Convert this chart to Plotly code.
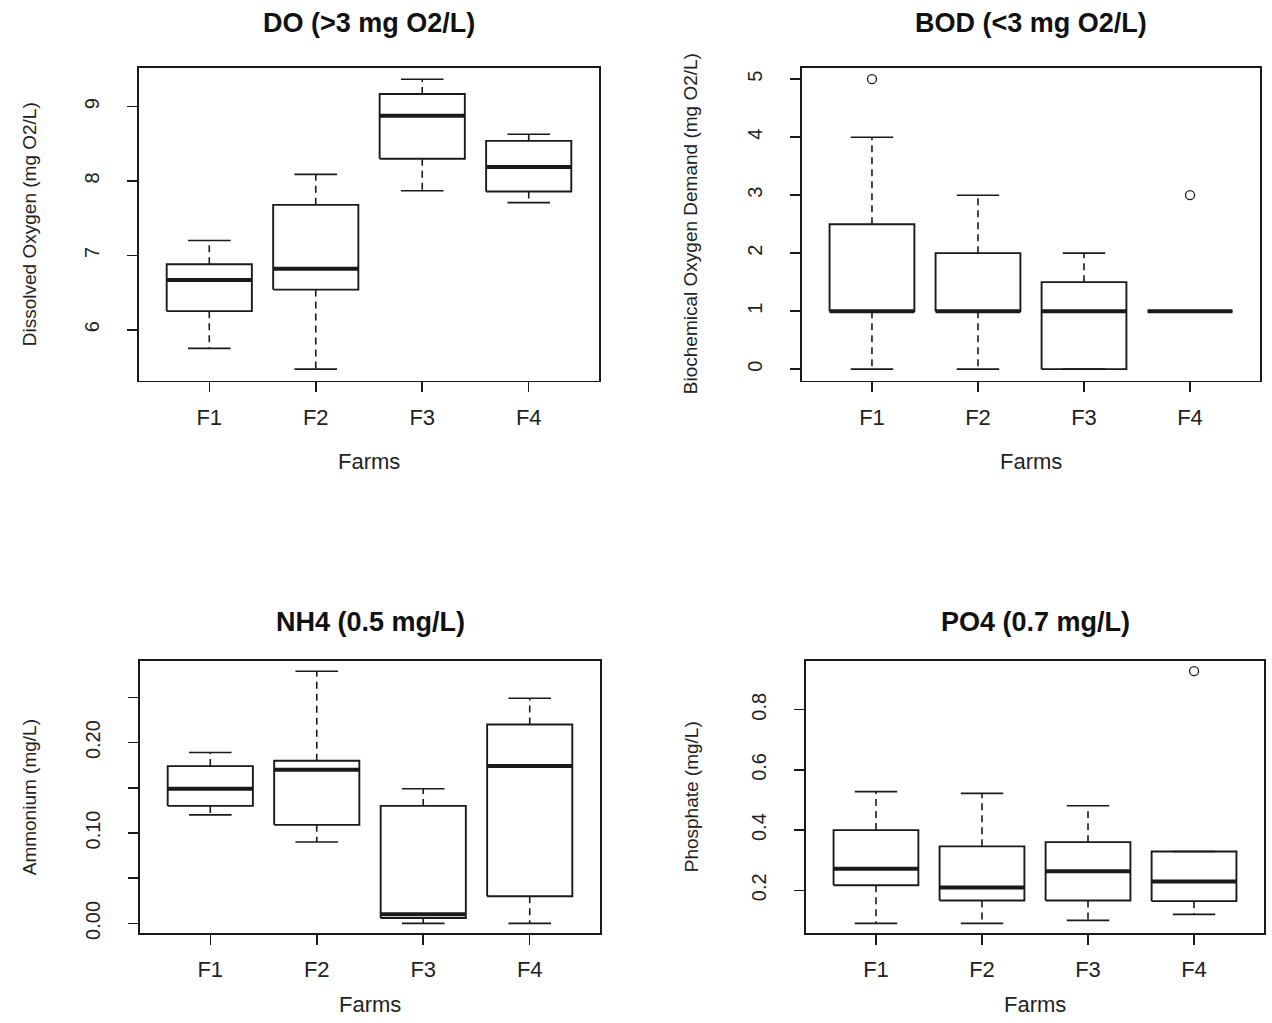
import plotly.graph_objects as go

# ---------------- data ----------------
farms = ["F1", "F2", "F3", "F4"]

do_lower = [5.75, 5.47, 7.87, 7.71]
do_q1 = [6.25, 6.54, 8.30, 7.86]
do_median = [6.67, 6.82, 8.88, 8.19]
do_q3 = [6.88, 7.68, 9.17, 8.54]
do_upper = [7.20, 8.09, 9.37, 8.63]
do_out_farm = []
do_out_val = []

bod_lower = [0, 0, 0, 1]
bod_q1 = [1, 1, 0, 1]
bod_median = [1, 1, 1, 1]
bod_q3 = [2.5, 2, 1.5, 1]
bod_upper = [4, 3, 2, 1]
bod_out_farm = ["F1", "F4"]
bod_out_val = [5, 3]

nh4_lower = [0.120, 0.090, 0.000, 0.000]
nh4_q1 = [0.130, 0.109, 0.006, 0.030]
nh4_median = [0.149, 0.170, 0.010, 0.174]
nh4_q3 = [0.174, 0.180, 0.130, 0.220]
nh4_upper = [0.189, 0.279, 0.149, 0.249]
nh4_out_farm = []
nh4_out_val = []

po4_lower = [0.090, 0.090, 0.100, 0.120]
po4_q1 = [0.217, 0.166, 0.166, 0.164]
po4_median = [0.272, 0.209, 0.263, 0.229]
po4_q3 = [0.400, 0.346, 0.360, 0.329]
po4_upper = [0.528, 0.522, 0.481, 0.329]
po4_out_farm = ["F4"]
po4_out_val = [0.928]

titles = ["DO (>3 mg O2/L)", "BOD (<3 mg O2/L)", "NH4 (0.5 mg/L)", "PO4 (0.7 mg/L)"]
y_titles = ["Dissolved Oxygen (mg O2/L)", "Biochemical Oxygen Demand (mg O2/L)",
            "Ammonium (mg/L)", "Phosphate (mg/L)"]
x_title = "Farms"

do_ticks = [6, 7, 8, 9]
do_ticktext = ["6", "7", "8", "9"]
bod_ticks = [0, 1, 2, 3, 4, 5]
bod_ticktext = ["0", "1", "2", "3", "4", "5"]
nh4_ticks = [0.00, 0.05, 0.10, 0.15, 0.20, 0.25]
nh4_ticktext = ["0.00", "", "0.10", "", "0.20", ""]
po4_ticks = [0.2, 0.4, 0.6, 0.8]
po4_ticktext = ["0.2", "0.4", "0.6", "0.8"]

# ---------------- styling / layout ----------------
W, H = 1272, 1023
FONT = "Liberation Sans, Arial, Helvetica, sans-serif"
INK = "#1a1a1a"
BOXW = 0.4     # half width of box
STAPLE = 0.2   # half width of staple


def px(x):
    return x / W


def py(y):
    return 1 - y / H


panels = [
    dict(lower=do_lower, q1=do_q1, med=do_median, q3=do_q3, upper=do_upper,
         of=do_out_farm, ov=do_out_val, ticks=do_ticks, ticktext=do_ticktext,
         frame=(139, 599, 68, 383), ytx=29),
    dict(lower=bod_lower, q1=bod_q1, med=bod_median, q3=bod_q3, upper=bod_upper,
         of=bod_out_farm, ov=bod_out_val, ticks=bod_ticks, ticktext=bod_ticktext,
         frame=(802, 1260, 68, 383), ytx=690),
    dict(lower=nh4_lower, q1=nh4_q1, med=nh4_median, q3=nh4_q3, upper=nh4_upper,
         of=nh4_out_farm, ov=nh4_out_val, ticks=nh4_ticks, ticktext=nh4_ticktext,
         frame=(140, 600, 665, 939), ytx=29),
    dict(lower=po4_lower, q1=po4_q1, med=po4_median, q3=po4_q3, upper=po4_upper,
         of=po4_out_farm, ov=po4_out_val, ticks=po4_ticks, ticktext=po4_ticktext,
         frame=(806, 1264, 665, 939), ytx=691),
]

fig = go.Figure()
annotations = []
layout_axes = {}

for k, p in enumerate(panels):
    sfx = "" if k == 0 else str(k + 1)
    xa, ya = "x" + sfx, "y" + sfx
    pos = [farms.index(f) + 1 for f in farms]

    wx, wy, sx, sy, bx, by, mx, my = [], [], [], [], [], [], [], []
    for i, c in enumerate(pos):
        # dashed whiskers
        wx += [c, c, None, c, c, None]
        wy += [p["q3"][i], p["upper"][i], None, p["q1"][i], p["lower"][i], None]
        # staples
        sx += [c - STAPLE, c + STAPLE, None, c - STAPLE, c + STAPLE, None]
        sy += [p["upper"][i], p["upper"][i], None, p["lower"][i], p["lower"][i], None]
        # box outline
        bx += [c - BOXW, c + BOXW, c + BOXW, c - BOXW, c - BOXW, None]
        by += [p["q1"][i], p["q1"][i], p["q3"][i], p["q3"][i], p["q1"][i], None]
        # median
        mx += [c - BOXW, c + BOXW, None]
        my += [p["med"][i], p["med"][i], None]

    fig.add_trace(go.Scatter(x=wx, y=wy, mode="lines", xaxis=xa, yaxis=ya,
                             line=dict(color=INK, width=1.6, dash="7px,5px"),
                             hoverinfo="skip"))
    fig.add_trace(go.Scatter(x=sx, y=sy, mode="lines", xaxis=xa, yaxis=ya,
                             line=dict(color=INK, width=1.6), hoverinfo="skip"))
    fig.add_trace(go.Scatter(x=bx, y=by, mode="lines", xaxis=xa, yaxis=ya,
                             line=dict(color=INK, width=1.9), hoverinfo="skip"))
    fig.add_trace(go.Scatter(x=mx, y=my, mode="lines", xaxis=xa, yaxis=ya,
                             line=dict(color=INK, width=4), hoverinfo="skip"))
    if p["ov"]:
        fig.add_trace(go.Scatter(x=[farms.index(f) + 1 for f in p["of"]], y=p["ov"],
                                 mode="markers", xaxis=xa, yaxis=ya,
                                 marker=dict(symbol="circle-open", size=9,
                                             color=INK, line=dict(width=1.3))))

    vals = p["lower"] + p["upper"] + p["ov"]
    lo, hi = min(vals), max(vals)
    pad = (hi - lo) * 0.04
    x0, x1, y0, y1 = p["frame"]

    layout_axes["xaxis" + sfx] = dict(
        domain=[px(x0), px(x1)], anchor=ya, range=[0.34, 4.66],
        tickmode="array", tickvals=pos, ticktext=farms,
        ticks="outside", ticklen=10, tickwidth=1.5, tickcolor=INK,
        showline=True, linecolor=INK, linewidth=1.6, mirror=True,
        showgrid=False, zeroline=False, ticklabelstandoff=6,
        tickfont=dict(size=22, family=FONT, color="#222"), fixedrange=True)
    layout_axes["yaxis" + sfx] = dict(
        domain=[py(y1), py(y0)], anchor=xa, range=[lo - pad, hi + pad],
        tickmode="array", tickvals=p["ticks"], ticktext=p["ticktext"],
        ticks="outside", ticklen=10, tickwidth=1.5, tickcolor=INK, tickangle=-90,
        showline=True, linecolor=INK, linewidth=1.6, mirror=True,
        showgrid=False, zeroline=False, ticklabelstandoff=20,
        tickfont=dict(size=20, family=FONT, color="#222"), fixedrange=True)

    cx = (x0 + x1) / 2
    cy = (y0 + y1) / 2
    ty = 23 if y0 < 500 else 626
    fy = 464 if y0 < 500 else 1010
    annotations.append(dict(text="<b>" + titles[k] + "</b>", x=px(cx), y=py(ty),
                            xref="paper", yref="paper", showarrow=False,
                            xanchor="center", yanchor="middle",
                            font=dict(size=27, family=FONT, color="#111")))
    annotations.append(dict(text=x_title, x=px(cx), y=py(fy),
                            xref="paper", yref="paper", showarrow=False,
                            xanchor="center", yanchor="middle",
                            font=dict(size=22, family=FONT, color="#222")))
    annotations.append(dict(text=y_titles[k], x=px(p["ytx"]), y=py(cy),
                            xref="paper", yref="paper", showarrow=False,
                            xanchor="center", yanchor="middle", textangle=-90,
                            font=dict(size=19, family=FONT, color="#222")))

fig.update_layout(width=W, height=H, margin=dict(l=0, r=0, t=0, b=0),
                  paper_bgcolor="white", plot_bgcolor="white", showlegend=False,
                  annotations=annotations, **layout_axes)

fig.write_html("out.html",
               config={"displayModeBar": False, "staticPlot": True},
               post_script="document.body.style.margin='0';"
                           "document.body.style.overflow='hidden';")
